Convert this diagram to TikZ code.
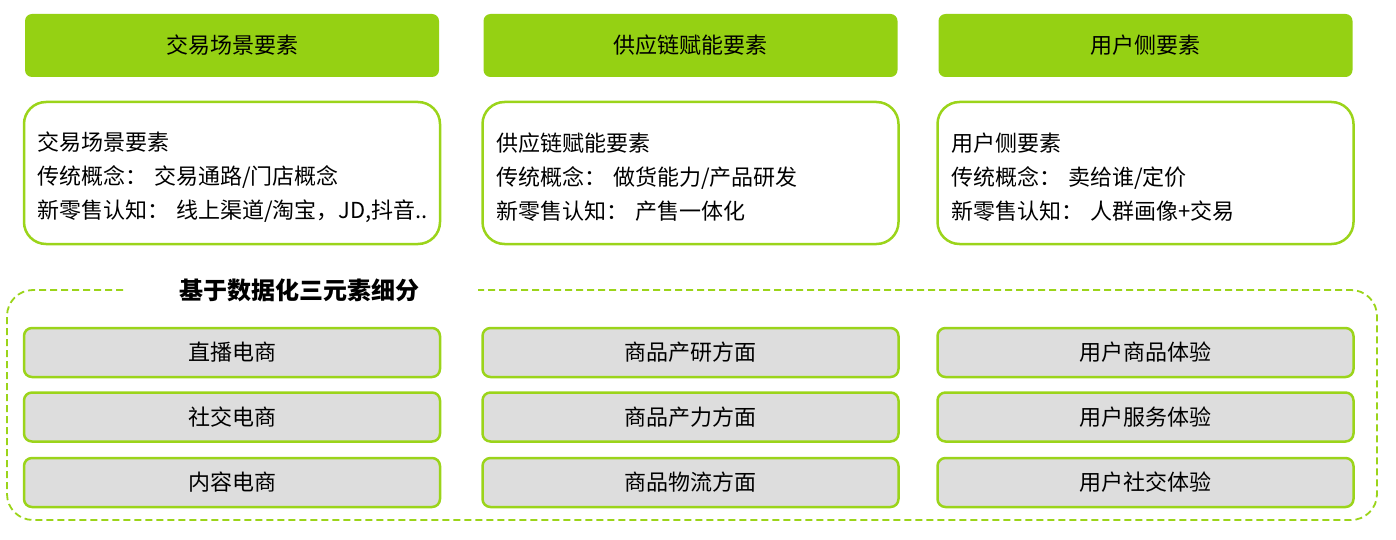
\documentclass[tikz,border=0pt]{standalone}
\usepackage{fontspec}
\setmainfont{Noto Sans CJK SC}
\usepackage{tikz}
\usetikzlibrary{positioning}

\definecolor{hdrgreen}{RGB}{149,209,19}
\definecolor{linegreen}{RGB}{155,212,26}
\definecolor{itemgray}{RGB}{221,221,221}
\newcommand{\colgap}{：\hspace{7pt}}

\tikzset{
    hdr/.style={fill=hdrgreen, rounded corners=7pt, minimum width=414pt, minimum height=63pt, font=\fontsize{22}{26}\selectfont},
    desc/.style={draw=linegreen, line width=2.5pt, fill=white, rounded corners=22pt, minimum width=416pt, minimum height=142pt},
    desctext/.style={anchor=west, align=left, inner sep=0pt, font=\fontsize{22}{34}\selectfont},
    item/.style={draw=linegreen, line width=2.5pt, fill=itemgray, rounded corners=8pt, minimum width=416pt, minimum height=49pt, font=\fontsize{22}{26}\selectfont},
}

\begin{document}
\begin{tikzpicture}[x=1pt,y=-1pt]
    \useasboundingbox (0,0) rectangle (1396,540);
    % header row
    \node [hdr] (h1) at (232,45.5) {交易场景要素};
    \node [hdr] (h2) at (690.5,45.5) {供应链赋能要素};
    \node [hdr] (h3) at (1145.5,45.5) {用户侧要素};
    % description boxes
    \node [desc] (d1) at (232,173) {};
    \node [desc] (d2) at (690.5,173) {};
    \node [desc] (d3) at (1145.5,173) {};
    \node [desctext] (d1t) at (37,177) {交易场景要素\\传统概念\colgap 交易通路/门店概念\\新零售认知\colgap 线上渠道/淘宝，JD,抖音..};
    \node [desctext] (d2t) at (496,177) {供应链赋能要素\\传统概念\colgap 做货能力/产品研发\\新零售认知\colgap 产售一体化};
    \node [desctext] (d3t) at (951,177) {用户侧要素\\传统概念\colgap 卖给谁/定价\\新零售认知\colgap 人群画像+交易};
    % dashed frame with title gap
    \draw [linegreen, line width=1.8pt, dash pattern=on 7pt off 4pt, rounded corners=26pt]
        (123,290) -- (7,290) -- (7,520) -- (1377,520) -- (1377,290) -- (478,290);
    \node [font=\fontsize{24}{28}\selectfont\bfseries] (title) at (299,290) {基于数据化三元素细分};
    % item boxes
    \node [item] (a1) at (232,352.5) {直播电商};
    \node [item] (a2) at (232,417) {社交电商};
    \node [item] (a3) at (232,482.5) {内容电商};
    \node [item] (b1) at (690.5,352.5) {商品产研方面};
    \node [item] (b2) at (690.5,417) {商品产力方面};
    \node [item] (b3) at (690.5,482.5) {商品物流方面};
    \node [item] (c1) at (1145.5,352.5) {用户商品体验};
    \node [item] (c2) at (1145.5,417) {用户服务体验};
    \node [item] (c3) at (1145.5,482.5) {用户社交体验};
\end{tikzpicture}
\end{document}
